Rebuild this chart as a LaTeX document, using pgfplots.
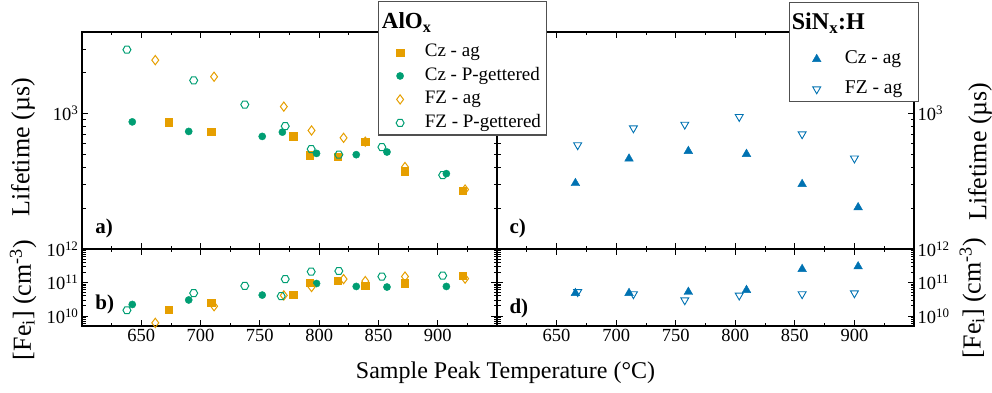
\documentclass[border=0pt]{standalone}
\usepackage{pgfplots}
\pgfplotsset{compat=1.18}
\usepackage{fontspec}
\setmainfont{Liberation Serif}
\definecolor{cOr}{HTML}{E69F00}
\definecolor{cGr}{HTML}{009E73}
\definecolor{cBl}{HTML}{0072B2}
\definecolor{boxc}{HTML}{505050}
\pgfdeclareplotmark{hexa}{%
  \pgfpathmoveto{\pgfqpoint{\pgfplotmarksize}{0pt}}%
  \pgfpathlineto{\pgfpointpolar{60}{\pgfplotmarksize}}%
  \pgfpathlineto{\pgfpointpolar{120}{\pgfplotmarksize}}%
  \pgfpathlineto{\pgfpointpolar{180}{\pgfplotmarksize}}%
  \pgfpathlineto{\pgfpointpolar{240}{\pgfplotmarksize}}%
  \pgfpathlineto{\pgfpointpolar{300}{\pgfplotmarksize}}%
  \pgfpathclose\pgfusepathqstroke}
\pgfplotsset{
  myBase/.style={anchor=south west, scale only axis, xmin=600, xmax=950,
    xtick={650,700,...,900}, minor xtick={625,675,...,925},
    tick align=inside, major tick length=6pt, minor tick length=3.5pt,
    tick style={black, line width=0.8pt},
    axis line style={line width=1.1pt},
    ticklabel style={font=\fontsize{18.5}{22}\selectfont},
    clip=false, xtick pos=both, ytick pos=both},
  myTop/.style={height=217pt, ymin=100, ymax=4000, ytick={1000},
    yticklabels={10\textsuperscript{3}},
    minor ytick={200,300,400,500,600,700,800,900,2000,3000}, xticklabels={}},
  myBot/.style={height=77pt, ymin=5e9, ymax=1e12, ytick={1e10,1e11,1e12},
    yticklabels={10\textsuperscript{10},10\textsuperscript{11},10\textsuperscript{12}},
    minor ytick={6e9,7e9,8e9,9e9,2e10,3e10,4e10,5e10,6e10,7e10,8e10,9e10,2e11,3e11,4e11,5e11,6e11,7e11,8e11,9e11},
    xticklabels={650,700,750,800,850,900}},
  myLeg/.style={legend image code/.code={\path (-26pt,0pt) (6pt,0pt); \draw[##1] plot coordinates {(0pt,0pt)};}},
  mCza/.style={only marks, mark=square*, mark size=3.6pt, color=cOr, myLeg},
  mCzp/.style={only marks, mark=*, mark size=3.6pt, color=cGr, myLeg},
  mFza/.style={only marks, mark=diamond, mark size=4.6pt, color=cOr, mark options={line width=1pt}, myLeg},
  mFzp/.style={only marks, mark=hexa, mark size=4pt, color=cGr, mark options={line width=1pt}, myLeg},
  mSca/.style={only marks, mark=triangle*, mark size=5pt, color=cBl, myLeg},
  mSfa/.style={only marks, mark=triangle, mark size=4.6pt, color=cBl, mark options={rotate=180, line width=0.9pt}, myLeg},
}
\tikzset{
  yLab/.style={rotate=90, font=\fontsize{26}{30}\selectfont},
  pLab/.style={anchor=west, font=\fontsize{21}{24}\selectfont\bfseries},
}
\begin{document}
\begin{tikzpicture}
\useasboundingbox (0,0) rectangle (992pt,392pt);

% right bottom
\begin{axis}[ymode=log, myBase, myBot, at={(497pt,66pt)}, width=417pt, yticklabel pos=right]
\addplot[mSca] coordinates {(665.8,4.8e10) (710.8,4.8e10) (760.6,5.2e10) (809.4,5.9e10) (856.1,2.5e11) (903.1,3.0e11)};
\addplot[mSfa] coordinates {(667.7,5.2e10) (714.5,4.5e10) (757.6,2.96e10) (803.3,4.1e10) (856.1,4.5e10) (900,4.8e10)};
\node[pLab] at (axis description cs:0.0216,0.234) {d)};
\node[yLab] at (axis description cs:1.141,0.364) {[Fe\textsubscript{i}] (cm\textsuperscript{-3})};
\end{axis}

% right top
\begin{axis}[ymode=log, myBase, myTop, at={(497pt,143pt)}, width=417pt, yticklabel pos=right,
  legend style={at={(axis description cs:0.7034,0.9251)}, anchor=north west, draw=none, fill=none,
    inner xsep=0pt, inner ysep=0pt, font=\fontsize{19.5}{23}\selectfont, column sep=20pt, row sep=8.5pt,
    nodes={inner sep=2pt, text height=13pt, text depth=4.5pt}},
  legend cell align=left]
\draw[boxc, line width=1.1pt, fill=white] (axis description cs:0.7010,0.6788) rectangle (axis description cs:1.0103,1.1350);
\node[anchor=base west, inner sep=0pt, font=\fontsize{24}{28}\selectfont\bfseries] at (axis description cs:0.7067,1.0124) {SiN\textsubscript{x}:H};
\addplot[mSca] coordinates {(665.8,306) (710.8,464) (760.6,528) (809.4,502) (856.1,301) (903.1,203)};
\addlegendentry{Cz - ag}
\addplot[mSfa] coordinates {(667.7,585) (714.5,780) (757.6,830) (803.3,946) (856.1,705) (900,467)};
\addlegendentry{FZ - ag}
\node[pLab] at (axis description cs:0.0216,0.097) {c)};
\node[yLab] at (axis description cs:1.158,0.449) {Lifetime (µs)};
\end{axis}

% left bottom
\begin{axis}[ymode=log, myBase, myBot, at={(82pt,66pt)}, width=415pt]
\addplot[mCza] coordinates {(672.8,1.55e10) (708.9,2.45e10) (778.1,4.4e10) (791.9,1.0e11) (815.8,1.12e11) (838.9,7.9e10) (872.1,9.5e10) (920.9,1.55e11)};
\addplot[mCzp] coordinates {(642.4,2.2e10) (690,3.0e10) (752,4.2e10) (797.8,9.3e10) (831.3,7.6e10) (857.2,7.3e10) (907.3,7.6e10)};
\addplot[mFza] coordinates {(661.8,6.2e9) (711.4,1.95e10) (770.2,4.1e10) (793.6,7.3e10) (820.6,1.26e11) (838.9,1.1e11) (872.4,1.5e11) (923.1,1.3e11)};
\addplot[mFzp] coordinates {(637.9,1.48e10) (694.2,4.8e10) (737.3,7.9e10) (768,3.9e10) (771.4,1.26e11) (793.3,2.1e11) (816.6,2.2e11) (852.9,1.5e11) (904.2,1.6e11)};
\node[pLab] at (axis description cs:0.024,0.286) {b)};
\node[yLab] at (axis description cs:-0.142,0.338) {[Fe\textsubscript{i}] (cm\textsuperscript{-3})};
\node[font=\fontsize{24}{28}\selectfont] at (axis description cs:1.0205,-0.61) {Sample Peak Temperature (°C)};
\end{axis}

% left top
\begin{axis}[ymode=log, myBase, myTop, at={(82pt,143pt)}, width=415pt,
  legend style={at={(axis description cs:0.7029,0.9562)}, anchor=north west, draw=none, fill=none,
    inner xsep=0pt, inner ysep=0pt, font=\fontsize{19}{23}\selectfont, column sep=16.6pt, row sep=2pt,
    nodes={inner sep=2pt, text height=13pt, text depth=4.5pt}},
  legend cell align=left]
\draw[boxc, line width=1.1pt, fill=white] (axis description cs:0.7140,0.5253) rectangle (axis description cs:1.1198,1.1396);
\node[anchor=base west, inner sep=0pt, font=\fontsize{23}{27}\selectfont\bfseries] at (axis description cs:0.7222,1.0171) {AlO\textsubscript{x}};
\addplot[mCza] coordinates {(672.8,863) (708.9,738) (778.1,681) (791.9,493) (815.8,481) (838.9,620) (872.1,375) (920.9,268)};
\addlegendentry{Cz - ag}
\addplot[mCzp] coordinates {(642.4,868) (690,738) (752,678) (769,729) (797.8,508) (831.3,497) (857.2,520) (907.3,360)};
\addlegendentry{Cz - P-gettered}
\addplot[mFza] coordinates {(661.8,2480) (711.4,1870) (770.2,1125) (793.6,750) (820.6,662) (838.9,620) (872.4,403) (923.1,275)};
\addlegendentry{FZ - ag}
\addplot[mFzp] coordinates {(637.9,2960) (694.2,1757) (737.3,1165) (771.4,807) (793.3,547) (816.6,497) (852.9,565) (904.2,351)};
\addlegendentry{FZ - P-gettered}
\node[pLab] at (axis description cs:0.024,0.097) {a)};
\node[yLab] at (axis description cs:-0.142,0.468) {Lifetime (µs)};
\end{axis}
\end{tikzpicture}
\end{document}
